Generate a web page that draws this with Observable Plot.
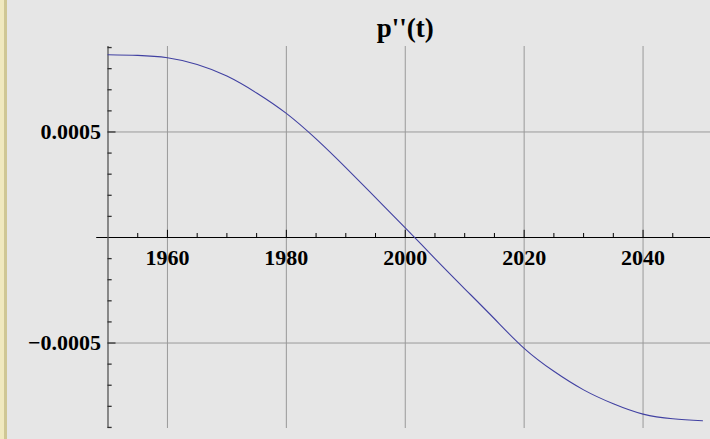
<!DOCTYPE html>
<html>
<head>
<meta charset="utf-8">
<script src="https://cdn.jsdelivr.net/npm/d3@7"></script>
<script src="https://cdn.jsdelivr.net/npm/@observablehq/plot@0.6"></script>
<style>
  html, body { margin: 0; padding: 0; }
  body { width: 710px; height: 439px; background: #e6e6e6; position: relative; overflow: hidden; }
  #stripe { position: absolute; left: 0; top: 0; width: 4px; height: 439px; background: #f0e9bf; border-right: 3px solid #cfc795; }
  #chart { position: absolute; left: 0; top: 0; }
  #chart svg { background: transparent; overflow: visible; }
</style>
</head>
<body>
<div id="stripe"></div>
<div id="chart"></div>
<script>
// Data
const years = [1950, 1955, 1960, 1965, 1970, 1975, 1980, 1985, 1990, 1995, 2000,
               2005, 2010, 2015, 2020, 2025, 2030, 2035, 2040, 2045, 2050];
const values = [0.000866, 0.000863, 0.000852, 0.000820, 0.000765, 0.000685, 0.000588,
                0.000467, 0.000331, 0.000189, 0.000046, -0.000100, -0.000243, -0.000385,
                -0.000525, -0.000634, -0.000722, -0.000788, -0.000837, -0.000859, -0.000868];
const xMajorTicks = [1960, 1980, 2000, 2020, 2040];
const xMinorTicks = [1955, 1965, 1970, 1975, 1985, 1990, 1995, 2005, 2010, 2015, 2025, 2030, 2035, 2045];
const yMajorTicks = [0.0005, -0.0005];
const yMajorLabels = ["0.0005", "\u22120.0005"];
const yMinorTicks = [0.0009, 0.0008, 0.0007, 0.0006, 0.0004, 0.0003, 0.0002, 0.0001,
                     -0.0001, -0.0002, -0.0003, -0.0004, -0.0006, -0.0007, -0.0008, -0.0009];
const title = "p''(t)";

const data = years.map((t, i) => ({t, v: values[i]}));
const xDomain = [1950, 2050];
const yDomain = [-0.000905, 0.000905];
const xOrigin = 1950;
const font = "'Liberation Serif', 'Times New Roman', serif";

const xTickMajor = 0.000034, xTickMinor = 0.000019; // tick lengths (data units)
const yTickMajor = 1.35, yTickMinor = 0.7;

const chart = Plot.plot({
  width: 710,
  height: 439,
  marginLeft: 107.5,
  marginRight: 8,
  marginTop: 46,
  marginBottom: 11,
  style: {background: "transparent", overflow: "visible"},
  x: {domain: xDomain, axis: null},
  y: {domain: yDomain, axis: null},
  marks: [
    // grid
    Plot.ruleX(xMajorTicks, {x: d => d, y1: yDomain[0], y2: yDomain[1], stroke: "#999999", strokeWidth: 1}),
    Plot.ruleY(yMajorTicks, {y: d => d, x1: xOrigin, x2: 2052, stroke: "#999999", strokeWidth: 1}),
    // axes
    Plot.ruleY([0], {x1: 1948.1, x2: 2052, stroke: "#000000", strokeWidth: 1}),
    Plot.ruleX([xOrigin], {y1: yDomain[0], y2: yDomain[1], stroke: "#555555", strokeWidth: 1.3}),
    // x ticks
    Plot.ruleX(xMajorTicks, {x: d => d, y1: 0, y2: xTickMajor, stroke: "#000", strokeWidth: 1}),
    Plot.ruleX(xMinorTicks, {x: d => d, y1: 0, y2: xTickMinor, stroke: "#000", strokeWidth: 1}),
    // y ticks
    Plot.ruleY(yMajorTicks, {y: d => d, x1: xOrigin, x2: xOrigin + yTickMajor, stroke: "#333", strokeWidth: 1.3}),
    Plot.ruleY(yMinorTicks, {y: d => d, x1: xOrigin, x2: xOrigin + yTickMinor, stroke: "#333", strokeWidth: 1.3}),
    // tick labels
    Plot.text(xMajorTicks, {x: d => d, y: 0, dy: 20, text: d => String(d),
      fontSize: 22, fontWeight: "bold", fontFamily: font, fill: "#000"}),
    Plot.text(yMajorTicks, {x: xOrigin, y: d => d, dx: -7, text: (d, i) => yMajorLabels[i],
      textAnchor: "end", fontSize: 22, fontWeight: "bold", fontFamily: font, fill: "#000"}),
    // curve
    Plot.line(data, {x: "t", y: "v", stroke: "#4141a2", strokeWidth: 1.1, curve: "natural"}),
    // title
    Plot.text([title], {frameAnchor: "top", lineAnchor: "bottom", dy: -10, text: d => d,
      fontSize: 27, fontWeight: "bold", fontFamily: font, fill: "#000"})
  ]
});
document.getElementById("chart").appendChild(chart);
</script>
</body>
</html>
